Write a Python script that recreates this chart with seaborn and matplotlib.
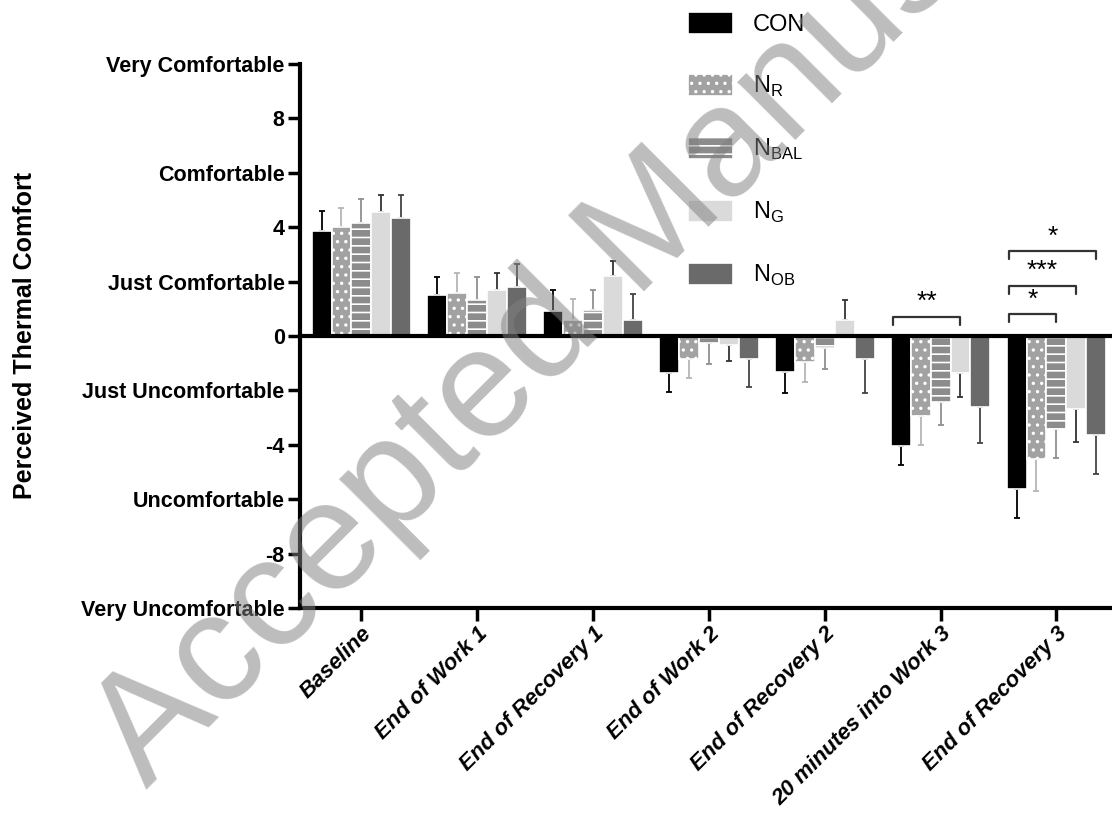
import numpy as np
import pandas as pd
import matplotlib
matplotlib.use("Agg")
import matplotlib.pyplot as plt
import seaborn as sns

# time points and groups
timepoints = ['Baseline', 'End of Work 1', 'End of Recovery 1', 'End of Work 2',
              'End of Recovery 2', '20 minutes into Work 3', 'End of Recovery 3']
groups = ['CON', 'NR', 'NBAL', 'NG', 'NOB']
group_labels = ['CON', r'N$_{\mathrm{R}}$', r'N$_{\mathrm{BAL}}$', r'N$_{\mathrm{G}}$', r'N$_{\mathrm{OB}}$']

# mean comfort scores
con_mean = [3.85, 1.51, 0.91, -1.37, -1.33, -4.04, -5.62]
nr_mean = [4.00, 1.57, 0.60, -0.84, -0.94, -2.95, -4.54]
nbal_mean = [4.16, 1.32, 0.97, -0.26, -0.44, -2.43, -3.42]
ng_mean = [4.57, 1.69, 2.19, -0.34, 0.58, -1.35, -2.68]
nob_mean = [4.34, 1.81, 0.60, -0.84, -0.86, -2.62, -3.65]

# one-sided error bars (SD)
con_err = [0.74, 0.65, 0.78, 0.68, 0.77, 0.72, 1.09]
nr_err = [0.70, 0.74, 0.76, 0.70, 0.74, 1.05, 1.15]
nbal_err = [0.87, 0.84, 0.72, 0.77, 0.77, 0.86, 1.07]
ng_err = [0.60, 0.61, 0.56, 0.58, 0.74, 0.90, 1.20]
nob_err = [0.84, 0.85, 0.94, 1.05, 1.24, 1.32, 1.42]

# y axis labels
ytick_vals = [-10, -8, -6, -4, -2, 0, 2, 4, 6, 8, 10]
ytick_labels = ['Very Uncomfortable', '-8', 'Uncomfortable', '-4', 'Just Uncomfortable', '0',
                'Just Comfortable', '4', 'Comfortable', '8', 'Very Comfortable']

# significance brackets: (timepoint index, from group, to group, height, stars)
sig_brackets = [(5, 0, 3, 0.71, '**'),
                (6, 0, 2, 0.80, '*'),
                (6, 0, 3, 1.85, '***'),
                (6, 0, 4, 3.12, '*')]

means = [con_mean, nr_mean, nbal_mean, ng_mean, nob_mean]
errs = [con_err, nr_err, nbal_err, ng_err, nob_err]
df = pd.DataFrame({
    'time': np.repeat([timepoints], 5, axis=0).ravel(),
    'group': np.repeat(groups, len(timepoints)),
    'score': np.concatenate(means),
})

sns.set_style('ticks')
plt.rcParams['font.family'] = ['Liberation Sans', 'DejaVu Sans']
plt.rcParams['mathtext.fontset'] = 'custom'
plt.rcParams['mathtext.rm'] = 'Liberation Sans'
plt.rcParams['hatch.color'] = 'white'
plt.rcParams['hatch.linewidth'] = 1.2
plt.rcParams['text.color'] = 'black'
plt.rcParams['axes.edgecolor'] = 'black'
plt.rcParams['xtick.color'] = 'black'
plt.rcParams['ytick.color'] = 'black'
plt.rcParams['axes.labelcolor'] = 'black'

colors = ['#000000', '#a2a2a2', '#8c8c8c', '#dadada', '#6a6a6a']
hatches = ['', '..', '--', '', '']
err_colors = ['#000000', '#b5b5b5', '#909090', '#333333', '#444444']

fig = plt.figure(figsize=(11.12, 8.14), dpi=100)
ax = fig.add_axes([0.2698, 0.2531, 0.7302, 0.6683])

sns.barplot(data=df, x='time', y='score', hue='group', palette=colors,
            width=0.86, errorbar=None, ax=ax, legend=False, zorder=2)

bar_conts = list(ax.containers)
for i, cont in enumerate(bar_conts):
    for j, bar in enumerate(cont.patches):
        bar.set_hatch(hatches[i])
        bar.set_edgecolor('white')
        bar.set_linewidth(1.2)
        xc = bar.get_x() + bar.get_width() / 2
        m = means[i][j]
        e = errs[i][j]
        yerr = [[0], [e]] if m >= 0 else [[e], [0]]
        ax.errorbar(xc, m, yerr=yerr, fmt='none', ecolor=err_colors[i],
                    elinewidth=1.3, capsize=2.5, capthick=1.3, zorder=1)

# significance brackets
for t, g1, g2, h, stars in sig_brackets:
    b1 = bar_conts[g1].patches[t]
    b2 = bar_conts[g2].patches[t]
    x1 = b1.get_x() + 0.02
    x2 = b2.get_x() + b2.get_width() / 2
    ax.plot([x1, x1, x2, x2], [h - 0.3, h, h, h - 0.3], color='#333333', lw=1.6,
            clip_on=False, zorder=4)
    ax.text((x1 + x2) / 2, h + 0.1, stars, ha='center', va='bottom', fontsize=19,
            color='black')

ax.axhline(0, color='black', lw=3, zorder=3)

ax.set_ylim(-10, 10)
ax.set_xlim(-0.53, 6.48)
ax.set_yticks(ytick_vals)
ax.set_yticklabels(ytick_labels, fontsize=15.5, fontweight='bold')
ax.set_xticks(range(len(timepoints)))
ax.set_xticklabels(timepoints, rotation=45, ha='right', rotation_mode='anchor',
                   fontsize=16, fontweight='bold', style='italic')
ax.tick_params(axis='both', length=9, width=2.5, pad=2)
ax.set_xlabel('')
ax.set_ylabel('Perceived Thermal Comfort', fontsize=18, fontweight='bold')
ax.yaxis.set_label_coords(-0.324, 0.5)

sns.despine(ax=ax)
ax.spines['left'].set_linewidth(3)
ax.spines['bottom'].set_linewidth(3)

# legend
handles = [plt.Rectangle((0, 0), 1, 1, facecolor=c, edgecolor='white', hatch=h, lw=1.2)
           for c, h in zip(colors, hatches)]
ax.legend(handles, group_labels, loc='upper left', bbox_to_anchor=(0.6187, 0.985),
          bbox_transform=fig.transFigure, frameon=False, fontsize=17,
          handlelength=1.9, handleheight=1.05, handletextpad=0.85, labelspacing=1.6,
          borderpad=0, borderaxespad=0)

# watermark
fig.text(146 / 1112, 1 - 789 / 814, 'Accepted Manuscript', fontsize=112, color='gray',
         alpha=0.52, rotation=45, rotation_mode='anchor', ha='left', va='baseline',
         zorder=10)

fig.savefig('out.png', dpi=100)
